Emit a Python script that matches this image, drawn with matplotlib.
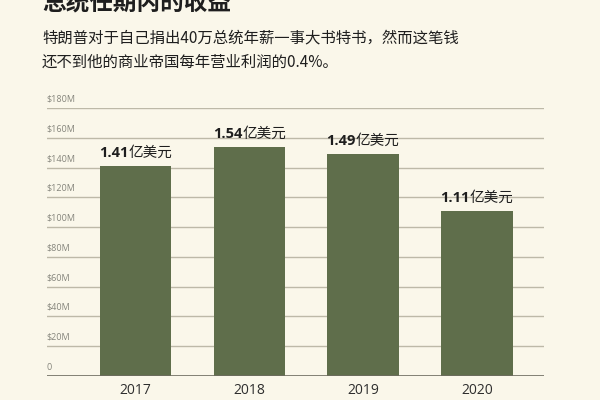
import matplotlib
matplotlib.use("Agg")
import matplotlib.pyplot as plt
import matplotlib.transforms as mtransforms

# data (millions of US dollars)
years = ["2017", "2018", "2019", "2020"]
revenue = [141, 154, 149, 111]
value_nums = ["1.41", "1.54", "1.49", "1.11"]
value_unit = "亿美元"
y_ticks = [0, 20, 40, 60, 80, 100, 120, 140, 160, 180]
y_tick_labels = ["0", "$20M", "$40M", "$60M", "$80M", "$100M",
                 "$120M", "$140M", "$160M", "$180M"]

title = "总统任期内的收益"
subtitle1 = "特朗普对于自己捐出40万总统年薪一事大书特书，然而这笔钱"
subtitle2 = "还不到他的商业帝国每年营业利润的0.4%。"

bg = "#faf7ea"
bar_color = "#5f6e4b"
cjk = ["Noto Sans CJK SC", "DejaVu Sans"]

fig = plt.figure(figsize=(6, 4), dpi=100, facecolor=bg)
ax = fig.add_axes([0.078, 0.06, 0.829, 0.67])
ax.set_facecolor(bg)

x = range(len(years))
ax.bar(x, revenue, width=0.63, color=bar_color, zorder=3)
ax.set_xlim(-0.78, 3.59)
ax.set_ylim(0, 180)

# grid lines with labels sitting above them
for v, lab in zip(y_ticks, y_tick_labels):
    if v == 0:
        ax.axhline(v, color="#6e6c60", lw=1.2, zorder=4)
    else:
        ax.axhline(v, color="#bdb9a8", lw=1.0, zorder=1)
    ax.text(-0.78, v + 3, lab, fontsize=6.5, color="#85857c",
            family="Open Sans", ha="left", va="bottom")

ax.set_yticks([])
ax.set_xticks(list(x))
ax.set_xticklabels(years, fontsize=10, color="#2e2e2e", family="Open Sans")
ax.tick_params(axis="x", length=0, pad=5)
for s in ax.spines.values():
    s.set_visible(False)

# value labels: bold number + regular unit, centred above each bar
renderer = fig.canvas.get_renderer()
for i, v in enumerate(revenue):
    t1 = ax.text(i, v + 6, value_nums[i], fontsize=10.5, fontweight="bold",
                 family="Open Sans", color="#1e1e1e", ha="right", va="baseline")
    t2 = ax.text(i, v + 6, value_unit, fontsize=10.5,
                 family=cjk, color="#1e1e1e", ha="left", va="baseline")
    w1 = t1.get_window_extent(renderer).width
    w2 = t2.get_window_extent(renderer).width
    dx = (w1 - w2) / 2.0 * 72.0 / fig.dpi
    off = mtransforms.offset_copy(ax.transData, fig=fig, x=dx, y=0, units="points")
    t1.set_transform(off)
    t2.set_transform(off)

fig.text(0.07, 1 - 2.5 / 400, title, fontsize=17, fontweight="bold",
         family=cjk, color="#1e1e1e", ha="left", va="center")
fig.text(0.07, 1 - 38 / 400, subtitle1, fontsize=11.1,
         family=cjk, color="#1e1e1e", ha="left", va="center")
fig.text(0.07, 1 - 62 / 400, subtitle2, fontsize=11.1,
         family=cjk, color="#1e1e1e", ha="left", va="center")

fig.savefig("out.png", dpi=100, facecolor=bg)
